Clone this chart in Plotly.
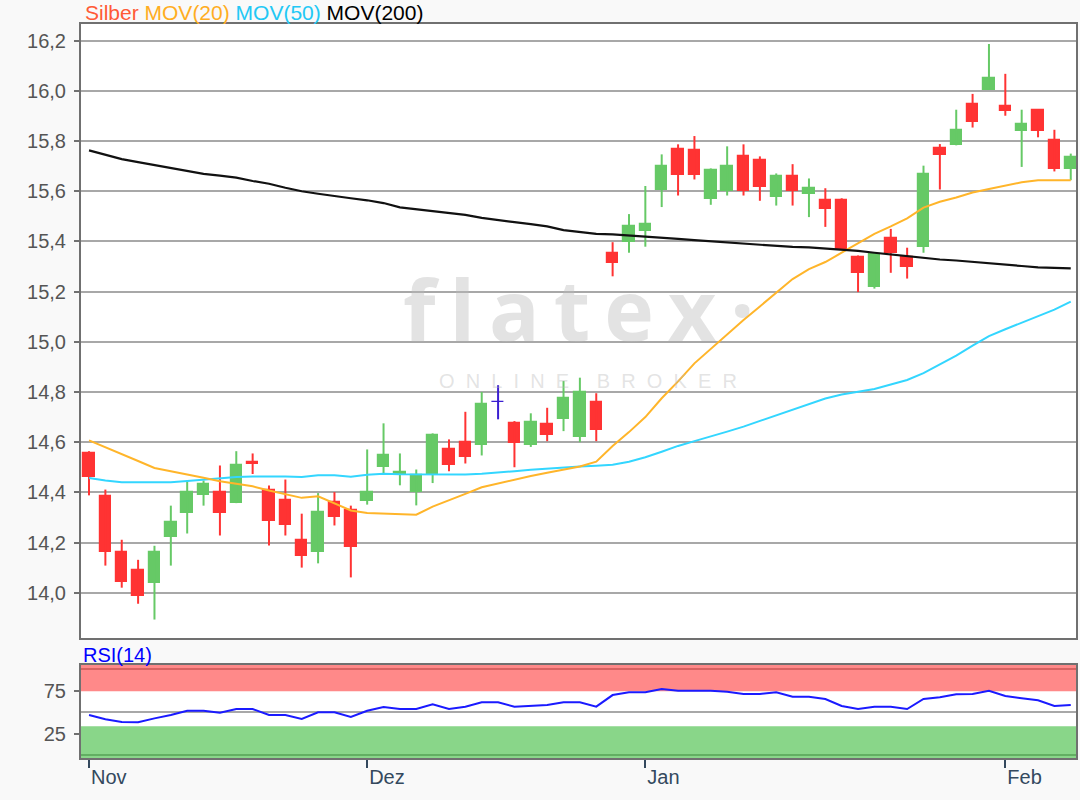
import plotly.graph_objects as go

# ---------------- data ----------------
idx = list(range(61))

opens = [14.555, 14.387, 14.161, 14.089, 14.037, 14.221, 14.317, 14.388, 14.400, 14.357,
         14.520, 14.411, 14.371, 14.211, 14.164, 14.361, 14.331, 14.364, 14.501, 14.475,
         14.401, 14.471, 14.571, 14.600, 14.587, 14.760, 14.675, 14.587, 14.673, 14.693,
         14.621, 14.761, 15.353, 15.397, 15.443, 15.605, 15.770, 15.763, 15.568, 15.603,
         15.739, 15.724, 15.579, 15.661, 15.589, 15.566, 15.566, 15.337, 15.219, 15.415,
         15.338, 15.379, 15.772, 15.783, 15.948, 16.004, 15.938, 15.841, 15.925, 15.803,
         15.689]
highs = [14.564, 14.411, 14.211, 14.131, 14.187, 14.347, 14.447, 14.447, 14.507, 14.564,
         14.555, 14.427, 14.451, 14.315, 14.397, 14.401, 14.347, 14.571, 14.675, 14.555,
         14.491, 14.635, 14.611, 14.721, 14.800, 14.827, 14.684, 14.715, 14.737, 14.844,
         14.857, 14.795, 15.397, 15.509, 15.621, 15.747, 15.787, 15.820, 15.691, 15.779,
         15.787, 15.739, 15.671, 15.708, 15.651, 15.612, 15.572, 15.344, 15.352, 15.450,
         15.375, 15.702, 15.788, 15.925, 15.988, 16.187, 16.068, 15.925, 15.925, 15.845,
         15.750]
lows = [14.388, 14.108, 14.020, 13.956, 13.893, 14.108, 14.236, 14.347, 14.228, 14.357,
        14.473, 14.188, 14.228, 14.100, 14.117, 14.268, 14.061, 14.351, 14.477, 14.428,
        14.348, 14.437, 14.484, 14.515, 14.547, 14.691, 14.500, 14.581, 14.604, 14.644,
        14.600, 14.604, 15.261, 15.355, 15.379, 15.537, 15.583, 15.647, 15.546, 15.583,
        15.583, 15.562, 15.543, 15.543, 15.497, 15.458, 15.366, 15.198, 15.212, 15.275,
        15.252, 15.355, 15.607, 15.783, 15.854, 16.004, 15.901, 15.697, 15.815, 15.679,
        15.644]
closes = [14.461, 14.164, 14.044, 13.988, 14.161, 14.281, 14.400, 14.433, 14.317, 14.507,
          14.512, 14.284, 14.268, 14.148, 14.321, 14.300, 14.181, 14.400, 14.547, 14.483,
          14.471, 14.627, 14.508, 14.541, 14.753, 14.760, 14.597, 14.681, 14.628, 14.777,
          14.800, 14.647, 15.316, 15.463, 15.470, 15.700, 15.664, 15.664, 15.684, 15.700,
          15.603, 15.616, 15.661, 15.601, 15.612, 15.529, 15.368, 15.276, 15.351, 15.352,
          15.300, 15.670, 15.743, 15.845, 15.878, 16.050, 15.921, 15.868, 15.841, 15.689,
          15.735]

mov20 = [14.607, 14.580, 14.555, 14.525, 14.497, 14.485, 14.473, 14.458, 14.444, 14.434,
         14.424, 14.407, 14.391, 14.378, 14.384, 14.355, 14.328, 14.318, 14.315, 14.312,
         14.311, 14.343, 14.370, 14.394, 14.420, 14.436, 14.450, 14.465, 14.478, 14.490,
         14.503, 14.522, 14.585, 14.640, 14.700, 14.775, 14.842, 14.914, 14.972, 15.028,
         15.087, 15.141, 15.197, 15.250, 15.290, 15.318, 15.355, 15.392, 15.430, 15.460,
         15.492, 15.535, 15.558, 15.575, 15.595, 15.609, 15.622, 15.636, 15.644, 15.644,
         15.644]
mov50 = [14.457, 14.447, 14.440, 14.440, 14.440, 14.440, 14.445, 14.451, 14.455, 14.461,
         14.463, 14.464, 14.463, 14.461, 14.468, 14.468, 14.462, 14.470, 14.474, 14.472,
         14.471, 14.471, 14.471, 14.471, 14.474, 14.478, 14.484, 14.490, 14.495, 14.500,
         14.503, 14.506, 14.510, 14.522, 14.540, 14.562, 14.585, 14.604, 14.622, 14.642,
         14.662, 14.685, 14.708, 14.730, 14.752, 14.774, 14.790, 14.800, 14.812, 14.830,
         14.848, 14.875, 14.910, 14.945, 14.985, 15.023, 15.050, 15.075, 15.100, 15.128,
         15.160]
mov200 = [15.763, 15.745, 15.728, 15.716, 15.704, 15.690, 15.680, 15.669, 15.662, 15.654,
          15.641, 15.630, 15.614, 15.600, 15.590, 15.580, 15.572, 15.564, 15.553, 15.536,
          15.528, 15.520, 15.514, 15.506, 15.494, 15.487, 15.477, 15.469, 15.460, 15.445,
          15.436, 15.430, 15.428, 15.424, 15.420, 15.414, 15.410, 15.405, 15.400, 15.396,
          15.392, 15.387, 15.381, 15.378, 15.376, 15.372, 15.366, 15.362, 15.355, 15.348,
          15.340, 15.334, 15.328, 15.324, 15.318, 15.313, 15.306, 15.302, 15.297, 15.294,
          15.293]
rsi = [46.5, 41.5, 38.4, 38.0, 42.6, 46.5, 51.5, 51.5, 49.2, 53.5,
       53.5, 46.5, 46.5, 41.9, 49.6, 49.6, 44.2, 51.5, 55.8, 53.5,
       53.5, 58.9, 53.5, 56.2, 61.2, 61.2, 56.2, 57.3, 58.2, 61.2,
       61.2, 56.2, 69.7, 72.9, 72.9, 76.7, 74.7, 74.7, 74.7, 73.6,
       71.0, 71.0, 72.9, 67.8, 67.8, 65.1, 57.0, 53.5, 56.2, 56.2,
       53.5, 65.1, 67.1, 70.6, 71.0, 74.7, 68.6, 66.0, 63.6, 57.0,
       58.2]

month_tick_pos = [0, 17, 34, 56]
month_labels = ["Nov", "Dez", "Jan", "Feb"]
price_ticks = [14.0, 14.2, 14.4, 14.6, 14.8, 15.0, 15.2, 15.4, 15.6, 15.8, 16.0, 16.2]
rsi_ticks = [25, 75]
rsi_grid = [0, 50, 100]
rsi_upper_band = 74
rsi_lower_band = 33.5

# ---------------- style ----------------
RED = "#ff3333"
GREEN = "#66c966"
BLUE = "#3b1fd1"
FONT = "Liberation Sans, Arial, sans-serif"
RSI_RANGE = [-3.49, 104.65]

def candle_color(o, c):
    if c > o:
        return GREEN
    if c < o:
        return RED
    return BLUE

colors = [candle_color(o, c) for o, c in zip(opens, closes)]

fig = go.Figure()

# wicks, one trace per colour
for col in (RED, GREEN, BLUE):
    wx, wy = [], []
    for i, o, h, l, c, cc in zip(idx, opens, highs, lows, closes, colors):
        if cc == col:
            wx += [i, i, None]
            wy += [l, h, None]
    fig.add_trace(go.Scatter(x=wx, y=wy, mode="lines", line=dict(color=col, width=2),
                             hoverinfo="skip", showlegend=False, xaxis="x", yaxis="y"))

# bodies
fig.add_trace(go.Bar(
    x=idx,
    y=[abs(c - o) for o, c in zip(opens, closes)],
    base=[min(o, c) for o, c in zip(opens, closes)],
    width=0.7,
    marker=dict(color=colors, line=dict(color=colors, width=1.2)),
    showlegend=False, xaxis="x", yaxis="y",
))

# moving averages
fig.add_trace(go.Scatter(x=idx, y=mov50, mode="lines", line=dict(color="#33d6ff", width=2),
                         showlegend=False, xaxis="x", yaxis="y"))
fig.add_trace(go.Scatter(x=idx, y=mov20, mode="lines", line=dict(color="#ffb52a", width=2),
                         showlegend=False, xaxis="x", yaxis="y"))
fig.add_trace(go.Scatter(x=idx, y=mov200, mode="lines", line=dict(color="#111111", width=2.2),
                         showlegend=False, xaxis="x", yaxis="y"))

# RSI
fig.add_trace(go.Scatter(x=idx, y=rsi, mode="lines", line=dict(color="#1a1aff", width=2),
                         showlegend=False, xaxis="x2", yaxis="y2"))

span = RSI_RANGE[1] - RSI_RANGE[0]
shapes = []
for g in rsi_grid:
    shapes.append(dict(type="line", xref="x2 domain", yref="y2", x0=0, x1=1, y0=g, y1=g,
                       line=dict(color="#a8a8a8", width=2), layer="below"))
shapes.append(dict(type="rect", xref="x2 domain", yref="y2 domain", x0=0, x1=1,
                   y0=(rsi_upper_band - RSI_RANGE[0]) / span, y1=1,
                   fillcolor="rgba(255,40,40,0.55)", line=dict(width=0), layer="below"))
shapes.append(dict(type="rect", xref="x2 domain", yref="y2 domain", x0=0, x1=1,
                   y0=0, y1=(rsi_lower_band - RSI_RANGE[0]) / span,
                   fillcolor="rgba(40,180,40,0.55)", line=dict(width=0), layer="below"))

legend_text = ('<span style="color:#ff5a36">Silber</span> '
               '<span style="color:#ffad1f">MOV(20)</span> '
               '<span style="color:#22c8f5">MOV(50)</span> '
               '<span style="color:#000000">MOV(200)</span>')

annotations = [
    dict(text=legend_text, xref="paper", yref="paper", x=0.002, y=1.016,
         xanchor="left", yanchor="middle", showarrow=False,
         font=dict(family=FONT, size=21)),
    dict(text="RSI(14)", xref="paper", yref="paper", x=0.0, y=0.1405,
         xanchor="left", yanchor="middle", showarrow=False,
         font=dict(family=FONT, size=20, color="#0000ff")),
    dict(text="<b>f\u2009l\u2009a\u2009t\u2009e\u2009x\u2009·</b>", xref="paper", yref="paper",
         x=0.5, y=0.612, xanchor="center", yanchor="middle", showarrow=False,
         font=dict(family="Open Sans, sans-serif", size=84, color="rgba(185,185,185,0.4)")),
    dict(text="\u00a0\u00a0".join(list("ONLINE")) + "\u00a0\u00a0\u00a0\u00a0\u00a0"
              + "\u00a0\u00a0".join(list("BROKER")),
         xref="paper", yref="paper", x=0.51, y=0.514, xanchor="center", yanchor="middle",
         showarrow=False,
         font=dict(family=FONT, size=20, color="rgba(185,185,185,0.4)")),
]

fig.update_layout(
    width=1080, height=800,
    margin=dict(l=81, r=2, t=24, b=42),
    paper_bgcolor="#f9f9f9",
    plot_bgcolor="#ffffff",
    separators=",.",
    showlegend=False,
    bargap=0,
    font=dict(family=FONT, size=20, color="#555555"),
    xaxis=dict(domain=[0, 1], anchor="y", range=[-0.49, 60.32], showticklabels=False,
               ticks="", showgrid=False, zeroline=False, showline=True, mirror=True,
               linecolor="#707070", linewidth=2),
    yaxis=dict(domain=[0.1635, 1], anchor="x", range=[13.8195, 16.2666],
               tickvals=price_ticks, tickformat=".1f", showgrid=True,
               gridcolor="#a8a8a8", gridwidth=2, zeroline=False, ticks="outside",
               ticklen=5, tickwidth=1.5, tickcolor="#707070", showline=True, mirror=True,
               linecolor="#707070", linewidth=2, ticklabelstandoff=4,
               tickfont=dict(family=FONT, size=20, color="#555555")),
    xaxis2=dict(domain=[0, 1], anchor="y2", matches="x", range=[-0.49, 60.32],
                tickvals=month_tick_pos, ticktext=month_labels, ticks="outside",
                ticklen=8, tickwidth=2, tickcolor="#34495e", showgrid=False,
                zeroline=False, showline=True, mirror=True, linecolor="#707070",
                linewidth=2, ticklabelposition="outside right",
                tickfont=dict(family=FONT, size=20, color="#34495e")),
    yaxis2=dict(domain=[0, 0.1267], anchor="x2", range=RSI_RANGE,
                tickvals=rsi_ticks, showgrid=False, zeroline=False, ticks="outside",
                ticklen=5, tickwidth=1.5, tickcolor="#707070", showline=True, mirror=True,
                linecolor="#707070", linewidth=2, ticklabelstandoff=4,
                tickfont=dict(family=FONT, size=20, color="#555555")),
    shapes=shapes,
    annotations=annotations,
)

# remove the default 8 px page margin so the figure sits at the window's corner
fig.write_html("out.html", config={"displayModeBar": False},
               post_script="document.body.style.margin='0';")
